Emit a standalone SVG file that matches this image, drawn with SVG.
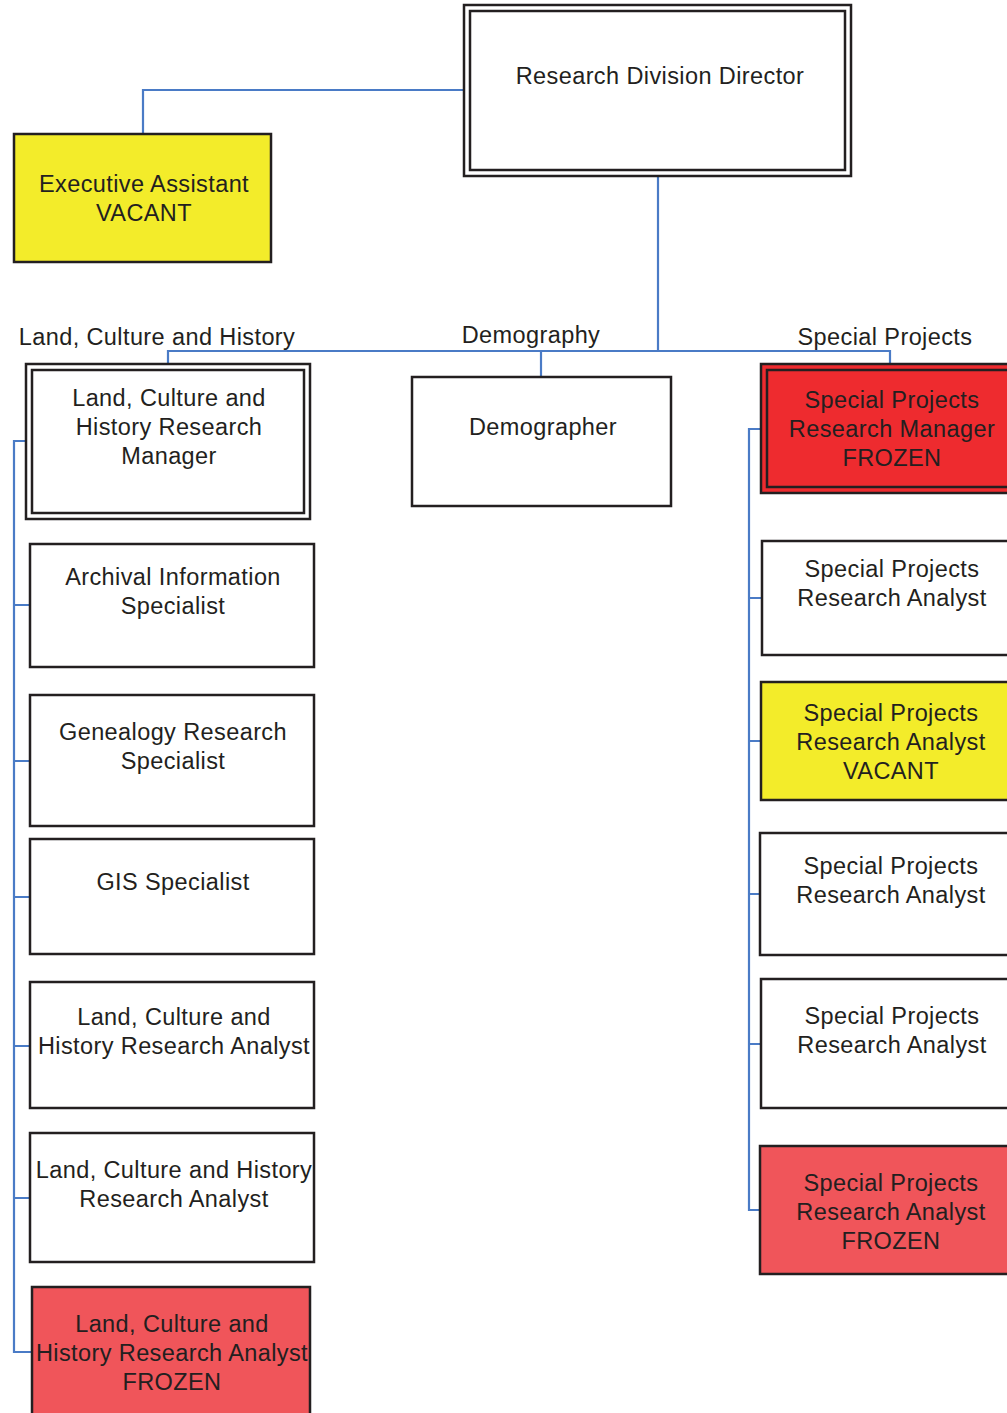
<svg xmlns="http://www.w3.org/2000/svg" width="1007" height="1413" viewBox="0 0 1007 1413">
<style>
.box{fill:#fff;stroke:#231f20;stroke-width:2.5}
.in{fill:none;stroke:#231f20;stroke-width:2.5}
.y{fill:#f3ec2a}
.r{fill:#ee2b2f}
.f{fill:#f0555a}
.c{fill:none;stroke:#4a7bc6;stroke-width:2.2}
text{font-family:"Liberation Sans",Arial,sans-serif;font-size:23.5px;fill:#231f20;text-anchor:middle;letter-spacing:0.4px}
</style>
<rect width="1007" height="1413" fill="#fff"/>
<g id="connectors">
<path class="c" d="M464 90H143V134"/>
<path class="c" d="M658 176V351"/>
<path class="c" d="M168 365V351H890V365"/>
<path class="c" d="M541 351V377"/>
<path class="c" d="M26 441H14V1352H32"/>
<path class="c" d="M14 605H30M14 761H30M14 897H30M14 1046H30M14 1198H30"/>
<path class="c" d="M761 429H749V1210H760"/>
<path class="c" d="M749 598H762M749 741H761M749 894H760M749 1044H761"/>
</g>
<g id="labels">
<text x="157" y="345">Land, Culture and History</text>
<text x="531" y="343">Demography</text>
<text x="885" y="345">Special Projects</text>
</g>
<g id="director">
<rect class="box" x="464" y="5" width="387" height="171"/>
<rect class="in" x="470" y="11" width="375" height="159"/>
<text x="660" y="84">Research Division Director</text>
</g>
<g id="exec-assistant">
<rect class="box y" x="14" y="134" width="257" height="128"/>
<text x="144" y="192">Executive Assistant</text>
<text x="144" y="221">VACANT</text>
</g>
<g id="lch-manager">
<rect class="box" x="26" y="364" width="284" height="155"/>
<rect class="in" x="32" y="370" width="272" height="143"/>
<text x="169" y="406">Land, Culture and</text>
<text x="169" y="435">History Research</text>
<text x="169" y="464">Manager</text>
</g>
<g id="archival">
<rect class="box" x="30" y="544" width="284" height="123"/>
<text x="173" y="585">Archival Information</text>
<text x="173" y="614">Specialist</text>
</g>
<g id="genealogy">
<rect class="box" x="30" y="695" width="284" height="131"/>
<text x="173" y="740">Genealogy Research</text>
<text x="173" y="769">Specialist</text>
</g>
<g id="gis">
<rect class="box" x="30" y="839" width="284" height="115"/>
<text x="173" y="890">GIS Specialist</text>
</g>
<g id="lch-analyst-1">
<rect class="box" x="30" y="982" width="284" height="126"/>
<text x="174" y="1025">Land, Culture and</text>
<text x="174" y="1054">History Research Analyst</text>
</g>
<g id="lch-analyst-2">
<rect class="box" x="30" y="1133" width="284" height="129"/>
<text x="174" y="1178">Land, Culture and History</text>
<text x="174" y="1207">Research Analyst</text>
</g>
<g id="lch-analyst-frozen">
<rect class="box f" x="32" y="1287" width="278" height="140"/>
<text x="172" y="1332">Land, Culture and</text>
<text x="172" y="1361">History Research Analyst</text>
<text x="172" y="1390">FROZEN</text>
</g>
<g id="demographer">
<rect class="box" x="412" y="377" width="259" height="129"/>
<text x="543" y="435">Demographer</text>
</g>
<g id="sp-manager">
<rect class="box r" x="761" y="364" width="260" height="129"/>
<rect class="in" x="767" y="370" width="248" height="117"/>
<text x="892" y="408">Special Projects</text>
<text x="892" y="437">Research Manager</text>
<text x="892" y="466">FROZEN</text>
</g>
<g id="sp-analyst-1">
<rect class="box" x="762" y="541" width="260" height="114"/>
<text x="892" y="577">Special Projects</text>
<text x="892" y="606">Research Analyst</text>
</g>
<g id="sp-analyst-vacant">
<rect class="box y" x="761" y="682" width="260" height="118"/>
<text x="891" y="721">Special Projects</text>
<text x="891" y="750">Research Analyst</text>
<text x="891" y="779">VACANT</text>
</g>
<g id="sp-analyst-3">
<rect class="box" x="760" y="833" width="260" height="122"/>
<text x="891" y="874">Special Projects</text>
<text x="891" y="903">Research Analyst</text>
</g>
<g id="sp-analyst-4">
<rect class="box" x="761" y="979" width="260" height="129"/>
<text x="892" y="1024">Special Projects</text>
<text x="892" y="1053">Research Analyst</text>
</g>
<g id="sp-analyst-frozen">
<rect class="box f" x="760" y="1146" width="260" height="128"/>
<text x="891" y="1191">Special Projects</text>
<text x="891" y="1220">Research Analyst</text>
<text x="891" y="1249">FROZEN</text>
</g>
</svg>
